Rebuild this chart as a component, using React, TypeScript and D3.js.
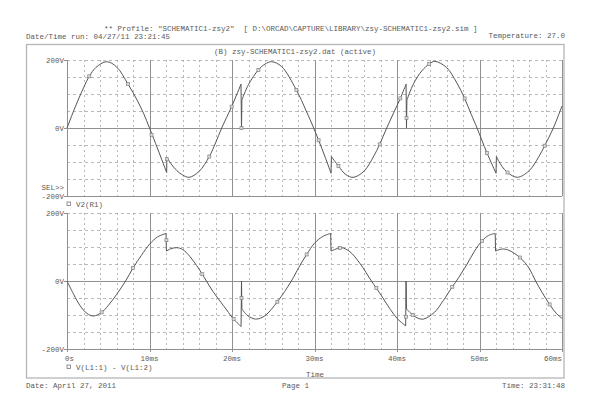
import React from 'react';
import * as d3 from 'd3';

type Pt = [number, number];

const xTicks = [0, 10, 20, 30, 40, 50, 60];
const xTickLabels = ['0s', '10ms', '20ms', '30ms', '40ms', '50ms', '60ms'];
const yTicks = [200, 0, -200];
const yTickLabels = ['200V', '0V', '-200V'];
const yGridDashed = [200, 150, 100, 50, -50, -100, -150];

// V2(R1) — top plot (time ms, volts)
const topSeg1: Pt[] = [[0,0],[1,62],[2,118],[2.7,152],[3.5,178],[4.8,195],[6,180],[7.4,129],[8.5,82],[9.3,42],[10,0],[11,-62],[12.08,-131]];
const topSeg2: Pt[] = [[12.1,-86],[12.6,-105],[13.3,-125],[14,-138],[14.8,-145],[16,-128],[17.25,-84],[18,-44],[18.75,0],[19.96,63],[21.09,129]];
const topSpike1: Pt[] = [[21.15,0]];
const topSeg3: Pt[] = [[21.2,82],[22,128],[23.2,171],[24,188],[24.8,195],[26,181],[27.8,112],[29,50],[29.9,0],[30.5,-36],[31.3,-86],[32,-133]];
const topSeg4: Pt[] = [[32.05,-84],[32.9,-112],[33.8,-137],[34.7,-145],[36,-127],[37.2,-82],[37.9,-48],[38.75,0],[39.6,45],[40.4,87],[41.1,129]];
const topSpike2: Pt[] = [[41.15,0]];
const topSeg5: Pt[] = [[41.2,82],[42,130],[43,168],[43.9,188],[44.6,196],[46,178],[47.2,135],[48.2,87],[49,40],[49.7,0],[50.9,-73],[52,-133]];
const topSeg6: Pt[] = [[52.05,-84],[52.7,-112],[53.4,-131],[54.6,-145],[56,-126],[57.2,-84],[57.9,-52],[58.95,0],[60,65]];
const topSegments: Pt[][] = [topSeg1, topSeg2, topSpike1, topSeg3, topSeg4, topSpike2, topSeg5, topSeg6];
const topMarkers: Pt[] = [[2.7,152],[7.4,129],[10.25,-20],[12.1,-92],[17.25,-84],[19.96,63],[21.15,0],[23.2,171],[27.8,112],[30.5,-36],[32.9,-112],[37.9,-48],[40.4,87],[41.15,30],[43.9,188],[48.2,87],[50.9,-73],[53.4,-131],[57.9,-52]];

// V(L1:1) - V(L1:2) — bottom plot
const botSeg1: Pt[] = [[0,0],[0.8,-39],[1.6,-73],[2.4,-95],[3.2,-103],[4.2,-92],[5,-72],[6,-40],[7.1,0],[8,38],[9,75],[10,108],[11,130],[12,140]];
const botSeg2: Pt[] = [[12.05,88],[12.6,95],[13.3,98],[14,93],[14.9,72],[15.7,46],[16.4,20],[16.9,0],[17.7,-31],[18.95,-72],[20.2,-112],[21.1,-134]];
const botSpike1: Pt[] = [[21.15,0]];
const botSeg3: Pt[] = [[21.2,-82],[21.8,-100],[22.4,-109],[23,-112],[24,-102],[25.5,-61],[27.2,0],[28.1,40],[29.05,78],[30,111],[31,131],[31.96,140]];
const botSeg4: Pt[] = [[32,88],[32.6,94],[33.3,98],[34.3,86],[35.5,52],[36.9,0],[37.5,-21],[38.3,-50],[39.2,-84],[40.1,-112],[41.05,-132]];
const botSpike2: Pt[] = [[41.1,0]];
const botSeg5: Pt[] = [[41.15,-82],[41.9,-100],[42.5,-109],[43.2,-112],[44.5,-93],[45.6,-58],[46.7,-17],[47.2,0],[48.5,50],[49.4,88],[50.3,118],[51.1,134],[51.9,140]];
const botSeg6: Pt[] = [[51.95,88],[52.7,94],[53.5,91],[54.9,69],[56,38],[56.8,0],[57.6,-34],[58.5,-69],[59.3,-95],[60,-110]];
const botSegments: Pt[][] = [botSeg1, botSeg2, botSpike1, botSeg3, botSeg4, botSpike2, botSeg5, botSeg6];
const botMarkers: Pt[] = [[4.2,-92],[8,38],[12.05,120],[16.4,20],[20.2,-112],[21.15,-50],[25.5,-61],[29.05,78],[33.1,97],[37.5,-21],[41.1,-105],[41.9,-100],[46.7,-17],[50.3,118],[54.9,69],[58.5,-69]];

const headerProfile = '** Profile: "SCHEMATIC1-zsy2"  [ D:\\ORCAD\\CAPTURE\\LIBRARY\\zsy-SCHEMATIC1-zsy2.sim ]';
const headerDate = 'Date/Time run: 04/27/11 23:21:45';
const headerTemp = 'Temperature: 27.0';
const plotTitle = '(B) zsy-SCHEMATIC1-zsy2.dat (active)';
const topLegend = 'V2(R1)';
const botLegend = 'V(L1:1) - V(L1:2)';
const footerDate = 'Date: April 27, 2011';
const footerPage = 'Page 1';
const footerTime = 'Time: 23:31:48';

const FONT = "'Liberation Mono', 'DejaVu Sans Mono', monospace";
const TXT = '#5a5a5a';
const GRID = '#a8a8a8';
const AXIS = '#909090';

export default function App() {
  const L = 67, R = 562;
  const x = d3.scaleLinear().domain([0, 60]).range([L, R]);
  const panels = [
    { y: d3.scaleLinear().domain([-200, 200]).range([196, 60]), segs: topSegments, marks: topMarkers, legend: topLegend, legendY: 204, top: true },
    { y: d3.scaleLinear().domain([-200, 200]).range([349, 213]), segs: botSegments, marks: botMarkers, legend: botLegend, legendY: 367, top: false },
  ];
  const minor = d3.range(2, 60, 2).filter((t) => t % 10 !== 0);
  const majors = xTicks.filter((t) => t > 0 && t < 60);
  const c = (v: number) => Math.round(v) + 0.5;

  const buildPath = (segs: Pt[][], y: d3.ScaleLinear<number, number>) => {
    const gen = d3.line<Pt>().x((d) => x(d[0])).y((d) => y(d[1])).curve(d3.curveCatmullRom.alpha(0.5));
    let out = '';
    segs.forEach((s, i) => {
      let p: string;
      if (s.length === 1) p = `M${x(s[0][0])},${y(s[0][1])}`;
      else p = gen(s) || '';
      out += i === 0 ? p : 'L' + p.slice(1);
    });
    return out;
  };

  const textProps = { fontFamily: FONT, fontSize: 7.5, fill: TXT, style: { whiteSpace: 'pre' } } as const;

  return (
    <div style={{ position: 'fixed', left: 0, top: 0 }}>
      <svg width={593} height={417} viewBox="0 0 593 417" style={{ display: 'block', background: '#fff' }}>
        <text {...textProps} x={104} y={31}>{headerProfile}</text>
        <text {...textProps} x={26} y={39}>{headerDate}</text>
        <text {...textProps} x={565} y={38} textAnchor="end">{headerTemp}</text>
        <rect x={26.5} y={44.5} width={537.5} height={333.5} fill="none" stroke="#b5b5b5" strokeWidth={1.3} />
        <text {...textProps} x={295} y={54} textAnchor="middle">{plotTitle}</text>

        {panels.map((p, pi) => {
          const [yb, yt] = p.y.range();
          return (
            <g key={pi}>
              {minor.map((t) => (
                <line key={'m' + t} x1={c(x(t))} x2={c(x(t))} y1={yt} y2={yb} stroke={GRID} strokeWidth={0.8} strokeDasharray="2,3" shapeRendering="crispEdges" />
              ))}
              {yGridDashed.map((v) => (
                <line key={'h' + v} x1={L} x2={R} y1={c(p.y(v))} y2={c(p.y(v))} stroke={GRID} strokeWidth={0.8} strokeDasharray="3,3" shapeRendering="crispEdges" />
              ))}
              {majors.map((t) => (
                <line key={'M' + t} x1={c(x(t))} x2={c(x(t))} y1={yt} y2={yb + (p.top ? 0 : 3)} stroke={AXIS} strokeWidth={1} shapeRendering="crispEdges" />
              ))}
              <line x1={L - 3} x2={R} y1={c(p.y(0))} y2={c(p.y(0))} stroke={AXIS} shapeRendering="crispEdges" />
              <line x1={L - 3} x2={R} y1={c(p.y(-200))} y2={c(p.y(-200))} stroke={AXIS} shapeRendering="crispEdges" />
              <line x1={L - 3} x2={L} y1={c(p.y(200))} y2={c(p.y(200))} stroke={AXIS} shapeRendering="crispEdges" />
              <line x1={c(L)} x2={c(L)} y1={yt} y2={yb + (p.top ? 0 : 3)} stroke={AXIS} shapeRendering="crispEdges" />
              <line x1={c(R)} x2={c(R)} y1={yt} y2={yb + (p.top ? 0 : 3)} stroke={AXIS} shapeRendering="crispEdges" />
              {yTicks.map((v, i) => (
                <text key={'yl' + v} {...textProps} x={64} y={p.y(v) + 2.6} textAnchor="end">{yTickLabels[i]}</text>
              ))}
              <path d={buildPath(p.segs, p.y)} fill="none" stroke="#555" strokeWidth={1} />
              {p.marks.map((m, i) => (
                <rect key={'k' + i} x={x(m[0]) - 1.5} y={p.y(m[1]) - 1.5} width={3} height={3} fill="#ddd" stroke="#808080" strokeWidth={0.7} />
              ))}
              <rect x={67} y={p.legendY - 2} width={3.5} height={3.5} fill="none" stroke="#777" strokeWidth={0.8} />
              <text {...textProps} x={76} y={p.legendY + 2.6}>{p.legend}</text>
            </g>
          );
        })}
        <text {...textProps} x={64} y={189.6} textAnchor="end">SEL&gt;&gt;</text>

        {xTicks.map((t, i) => (
          <text key={'xt' + t} {...textProps} x={i === 0 ? 65 : i === xTicks.length - 1 ? R : x(t)} y={360.6}
            textAnchor={i === 0 ? 'start' : i === xTicks.length - 1 ? 'end' : 'middle'}>{xTickLabels[i]}</text>
        ))}
        <text {...textProps} x={315} y={376.6} textAnchor="middle">Time</text>

        <text {...textProps} x={26} y={387.6}>{footerDate}</text>
        <text {...textProps} x={282} y={387.6}>{footerPage}</text>
        <text {...textProps} x={565} y={387.6} textAnchor="end">{footerTime}</text>
      </svg>
    </div>
  );
}
